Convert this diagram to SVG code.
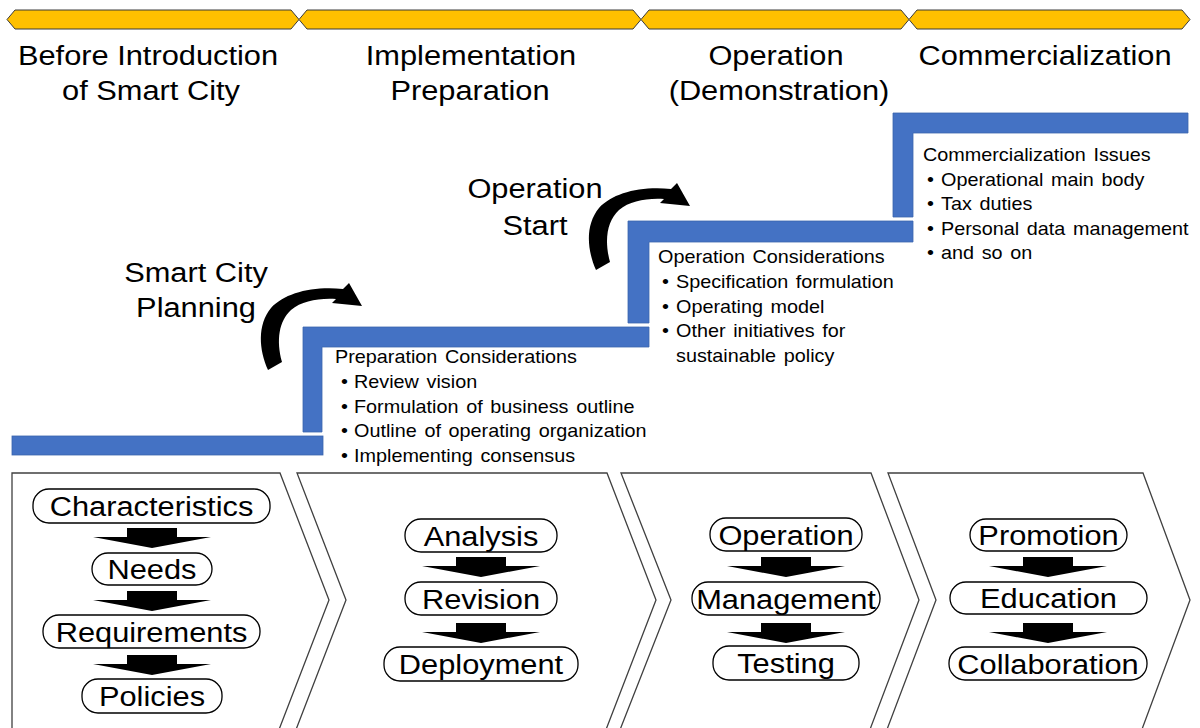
<svg xmlns="http://www.w3.org/2000/svg" xmlns:xlink="http://www.w3.org/1999/xlink" width="1200" height="728" viewBox="0 0 1200 728">
<style>
text{font-family:"Liberation Sans",Arial,sans-serif;fill:#000}
.big{font-size:28px;text-anchor:middle}
.sm{font-size:18px;word-spacing:2px}
.seg{fill:#FFC000;stroke:#3a3a3a;stroke-width:1}
.stair{fill:#4472C4;stroke:#3b64ad;stroke-width:0.8}
.chev{fill:#fff;stroke:#404040;stroke-width:1.3}
.pill{fill:#fff;stroke:#000;stroke-width:1.3}
.dn{fill:#000}
.curv{fill:#000}
</style>
<defs>
<path id="dnArrow" d="M-25,0 H25 V9 H59 L0,20 L-59,9 H-25 Z"/>
<path id="curvArrow" d="M268,370 C259,350 257,325 271,308 C285,293 312,286 343,289 L349,283 L362,306 L332,303 L336,299 C318,298 302,301 291,310 C279,321 276,340 282,362 Z"/>
</defs>
<rect width="1200" height="728" fill="#fff"/>

<g id="timeline">
<polygon class="seg" points="7,19.5 15,10 291,10 299,19.5 291,29 15,29"/>
<polygon class="seg" points="299,19.5 307,10 633,10 641,19.5 633,29 307,29"/>
<polygon class="seg" points="641,19.5 649,10 901,10 909,19.5 901,29 649,29"/>
<polygon class="seg" points="909,19.5 917,10 1182,10 1190,19.5 1182,29 917,29"/>
</g>

<g id="phase-before">
<text class="big" transform="translate(148,65) scale(1.1,1)">Before Introduction</text>
<text class="big" transform="translate(151,100) scale(1.1,1)">of Smart City</text>
</g>
<g id="phase-preparation">
<text class="big" transform="translate(471,65) scale(1.1,1)">Implementation</text>
<text class="big" transform="translate(470,100) scale(1.1,1)">Preparation</text>
</g>
<g id="phase-operation">
<text class="big" transform="translate(776,65) scale(1.1,1)">Operation</text>
<text class="big" transform="translate(779,100) scale(1.1,1)">(Demonstration)</text>
</g>
<g id="phase-commercialization">
<text class="big" transform="translate(1045,65) scale(1.1,1)">Commercialization</text>
</g>

<g id="stairs">
<rect class="stair" x="12" y="436" width="311" height="19"/>
<path class="stair" d="M303,327 H649 V347 H322 V432 H303 Z"/>
<path class="stair" d="M628,221 H913 V242 H649 V323 H628 Z"/>
<path class="stair" d="M893,113 H1188 V133 H913 V217 H893 Z"/>
</g>

<g id="connectors">
<use xlink:href="#curvArrow" href="#curvArrow" class="curv"/>
<use xlink:href="#curvArrow" href="#curvArrow" class="curv" transform="translate(328,-100)"/>
</g>

<g id="label-planning">
<text class="big" transform="translate(196,282) scale(1.1,1)">Smart City</text>
<text class="big" transform="translate(196,317) scale(1.1,1)">Planning</text>
</g>
<g id="label-start">
<text class="big" transform="translate(535,198) scale(1.1,1)">Operation</text>
<text class="big" transform="translate(535,235) scale(1.1,1)">Start</text>
</g>

<g id="prep-considerations">
<text class="sm" transform="translate(335,363) scale(1.1,1)">Preparation Considerations</text>
<text class="sm" transform="translate(341,388) scale(1.1,1)">•</text>
<text class="sm" transform="translate(354,388) scale(1.1,1)">Review vision</text>
<text class="sm" transform="translate(341,413) scale(1.1,1)">•</text>
<text class="sm" transform="translate(354,413) scale(1.1,1)">Formulation of business outline</text>
<text class="sm" transform="translate(341,437) scale(1.1,1)">•</text>
<text class="sm" transform="translate(354,437) scale(1.1,1)">Outline of operating organization</text>
<text class="sm" transform="translate(341,462) scale(1.1,1)">•</text>
<text class="sm" transform="translate(354,462) scale(1.1,1)">Implementing consensus</text>
</g>

<g id="operation-considerations">
<text class="sm" transform="translate(658,263) scale(1.1,1)">Operation Considerations</text>
<text class="sm" transform="translate(662,288) scale(1.1,1)">•</text>
<text class="sm" transform="translate(676,288) scale(1.1,1)">Specification formulation</text>
<text class="sm" transform="translate(662,313) scale(1.1,1)">•</text>
<text class="sm" transform="translate(676,313) scale(1.1,1)">Operating model</text>
<text class="sm" transform="translate(662,337) scale(1.1,1)">•</text>
<text class="sm" transform="translate(676,337) scale(1.1,1)">Other initiatives for</text>
<text class="sm" transform="translate(676,362) scale(1.1,1)">sustainable policy</text>
</g>

<g id="commercialization-issues">
<text class="sm" transform="translate(923,161) scale(1.1,1)">Commercialization Issues</text>
<text class="sm" transform="translate(927,186) scale(1.1,1)">•</text>
<text class="sm" transform="translate(941,186) scale(1.1,1)">Operational main body</text>
<text class="sm" transform="translate(927,210) scale(1.1,1)">•</text>
<text class="sm" transform="translate(941,210) scale(1.1,1)">Tax duties</text>
<text class="sm" transform="translate(927,235) scale(1.1,1)">•</text>
<text class="sm" transform="translate(941,235) scale(1.1,1)">Personal data management</text>
<text class="sm" transform="translate(927,259) scale(1.1,1)">•</text>
<text class="sm" transform="translate(941,259) scale(1.1,1)">and so on</text>
</g>

<g id="stage-1">
<path class="chev" d="M12,473 H280 L329,600 L275,740 H12 Z"/>
<rect class="pill" x="33" y="489" width="237" height="34" rx="16"/>
<text class="big" transform="translate(151.5,516) scale(1.1,1)">Characteristics</text>
<use href="#dnArrow" xlink:href="#dnArrow" class="dn" x="152" y="528"/>
<rect class="pill" x="92" y="553" width="120" height="32" rx="16"/>
<text class="big" transform="translate(152,579) scale(1.1,1)">Needs</text>
<use href="#dnArrow" xlink:href="#dnArrow" class="dn" x="152" y="591"/>
<rect class="pill" x="43" y="615" width="217" height="33" rx="16"/>
<text class="big" transform="translate(151.5,641.5) scale(1.1,1)">Requirements</text>
<use href="#dnArrow" xlink:href="#dnArrow" class="dn" x="152" y="655"/>
<rect class="pill" x="82" y="679" width="140" height="34" rx="16"/>
<text class="big" transform="translate(152,705.5) scale(1.1,1)">Policies</text>
</g>

<g id="stage-2">
<path class="chev" d="M297,473 H607 L656,600 L602,740 H292 L346,600 Z"/>
<rect class="pill" x="405" y="519" width="152" height="33" rx="16"/>
<text class="big" transform="translate(481,545.5) scale(1.1,1)">Analysis</text>
<use href="#dnArrow" xlink:href="#dnArrow" class="dn" x="481" y="557"/>
<rect class="pill" x="405" y="582" width="152" height="33" rx="16"/>
<text class="big" transform="translate(481,608.5) scale(1.1,1)">Revision</text>
<use href="#dnArrow" xlink:href="#dnArrow" class="dn" x="481" y="623"/>
<rect class="pill" x="384" y="647" width="194" height="34" rx="16"/>
<text class="big" transform="translate(481,673.5) scale(1.1,1)">Deployment</text>
</g>

<g id="stage-3">
<path class="chev" d="M621,473 H871 L919,600 L866,740 H616 L671,600 Z"/>
<rect class="pill" x="710" y="518" width="152" height="33" rx="16"/>
<text class="big" transform="translate(786,544.5) scale(1.1,1)">Operation</text>
<use href="#dnArrow" xlink:href="#dnArrow" class="dn" x="786" y="557"/>
<rect class="pill" x="692" y="582" width="188" height="33" rx="16"/>
<text class="big" transform="translate(786,608.5) scale(1.1,1)">Management</text>
<use href="#dnArrow" xlink:href="#dnArrow" class="dn" x="786" y="623"/>
<rect class="pill" x="713" y="646" width="146" height="34" rx="16"/>
<text class="big" transform="translate(786,672.5) scale(1.1,1)">Testing</text>
</g>

<g id="stage-4">
<path class="chev" d="M888,473 H1143 L1190,600 L1138,740 H883 L936,600 Z"/>
<rect class="pill" x="970" y="519" width="157" height="32" rx="16"/>
<text class="big" transform="translate(1048.5,545) scale(1.1,1)">Promotion</text>
<use href="#dnArrow" xlink:href="#dnArrow" class="dn" x="1048" y="557"/>
<rect class="pill" x="950" y="582" width="197" height="32" rx="16"/>
<text class="big" transform="translate(1048.5,608) scale(1.1,1)">Education</text>
<use href="#dnArrow" xlink:href="#dnArrow" class="dn" x="1048" y="623"/>
<rect class="pill" x="949" y="647" width="198" height="33" rx="16"/>
<text class="big" transform="translate(1048,673.5) scale(1.1,1)">Collaboration</text>
</g>
</svg>
